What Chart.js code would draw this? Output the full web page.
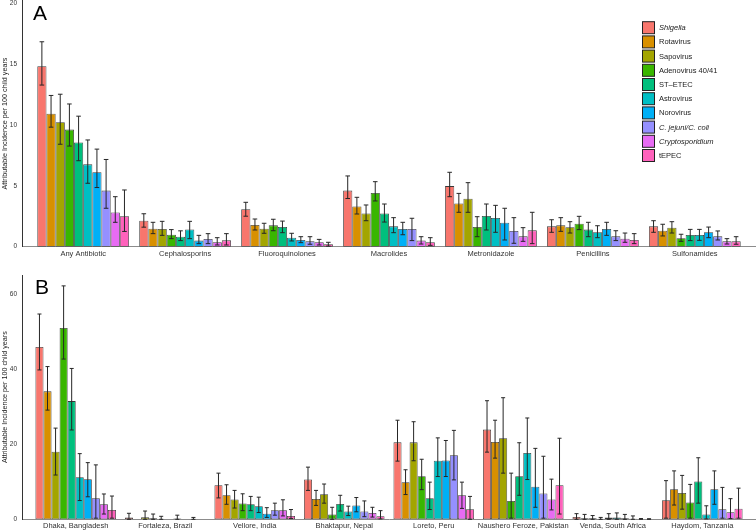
<!DOCTYPE html>
<html lang="en">
  <head>
    <meta charset="UTF-8" />
    <title>Attributable Incidence</title>
    <script src="https://cdn.jsdelivr.net/npm/chart.js"></script>
    <style>
      body { margin: 0; background: #fff; }
      canvas { display: block; }
    </style>
  </head>
  <body>
    <canvas id="chartA" width="756" height="262"></canvas>
    <canvas id="chartB" width="756" height="269"></canvas>
    <script>
      const pathogens = ["Shigella", "Rotavirus", "Sapovirus", "Adenovirus 40/41", "ST\u2013ETEC",
        "Astrovirus", "Norovirus", "C. jejuni/C. coli", "Cryptosporidium", "tEPEC"];
      const italicNames = ["Shigella", "C. jejuni/C. coli", "Cryptosporidium"];
      const colors = ["#F8766D", "#D89000", "#A3A500", "#39B600", "#00BF7D",
        "#00BFC4", "#00B0F6", "#9590FF", "#E76BF3", "#FF62BC"];

      const yTitle = "Attributable Incidence per 100 child years";

      // panel A: by antibiotic class
      const classes = ["Any Antibiotic", "Cephalosporins", "Fluoroquinolones", "Macrolides",
        "Metronidazole", "Penicillins", "Sulfonamides"];
      const yTicksA = [0, 5, 10, 15, 20];
      const estA = [
        [14.8, 2.13, 3.07, 4.6, 4.97, 1.67, 1.67],
        [10.9, 1.48, 1.78, 3.3, 3.55, 1.75, 1.31],
        [10.2, 1.45, 1.48, 2.73, 3.93, 1.59, 1.56],
        [9.6, 0.98, 1.75, 4.4, 1.61, 1.89, 0.69],
        [8.55, 0.82, 1.61, 2.73, 2.52, 1.4, 0.96],
        [6.75, 1.42, 0.74, 1.67, 2.35, 1.18, 0.96],
        [6.1, 0.5, 0.55, 1.45, 1.97, 1.45, 1.18],
        [4.6, 0.63, 0.44, 1.45, 1.29, 0.85, 0.85],
        [2.8, 0.36, 0.36, 0.5, 0.85, 0.66, 0.44],
        [2.5, 0.52, 0.2, 0.36, 1.34, 0.55, 0.44]
      ];
      const lowA = [
        [13.25, 1.6, 2.5, 3.95, 4.1, 1.18, 1.18],
        [9.8, 1.07, 1.37, 2.68, 2.82, 1.26, 0.88],
        [8.4, 0.93, 1.1, 2.13, 2.82, 1.12, 1.12],
        [8.25, 0.66, 1.31, 3.75, 0.82, 1.4, 0.44],
        [7.05, 0.5, 1.15, 2.02, 1.37, 0.82, 0.5],
        [5.2, 0.66, 0.47, 1.15, 1.18, 0.74, 0.52],
        [4.85, 0.25, 0.33, 0.98, 0.55, 0.93, 0.74],
        [3.15, 0.25, 0.2, 0.5, 0.28, 0.5, 0.55],
        [2.0, 0.14, 0.14, 0.22, 0.44, 0.36, 0.22],
        [1.25, 0.14, 0.05, 0.11, 0.25, 0.25, 0.2]
      ];
      const highA = [
        [16.8, 2.7, 3.64, 5.8, 6.1, 2.21, 2.13],
        [12.4, 2.0, 2.27, 4.05, 4.37, 2.38, 1.84],
        [12.5, 2.08, 1.92, 3.42, 5.25, 2.05, 2.05],
        [11.7, 1.4, 2.25, 5.33, 2.46, 2.49, 1.02],
        [10.7, 1.3, 2.1, 3.5, 3.5, 2.0, 1.42],
        [8.75, 2.08, 1.1, 2.38, 3.39, 1.72, 1.42],
        [8.0, 0.93, 0.82, 2.0, 3.15, 2.0, 1.61],
        [7.15, 1.07, 0.82, 2.33, 2.38, 1.31, 1.29],
        [4.1, 0.74, 0.6, 0.82, 1.56, 1.12, 0.66],
        [4.65, 1.07, 0.36, 0.74, 2.82, 1.07, 0.82]
      ];

      // panel B: by site
      const sites = ["Dhaka, Bangladesh", "Fortaleza, Brazil", "Vellore, India", "Bhaktapur, Nepal",
        "Loreto, Peru", "Naushero Feroze, Pakistan", "Venda, South Africa", "Haydom, Tanzania"];
      const yTicksB = [0, 20, 40, 60];
      const estB = [
        [45.9, 0.5, 9.1, 10.6, 20.5, 23.9, 0.6, 5.1],
        [34.1, 0, 6.4, 5.4, 9.9, 20.6, 0.3, 8.0],
        [18.0, 0.55, 5.3, 6.7, 20.5, 21.6, 0.3, 7.0],
        [51.0, 0.3, 4.2, 1.3, 11.5, 4.9, 0.1, 4.5],
        [31.5, 0.1, 4.0, 4.1, 5.6, 11.5, 0.45, 10.1],
        [11.2, 0, 3.5, 2.1, 15.6, 17.7, 0.5, 1.3],
        [10.7, 0.2, 1.5, 3.7, 15.7, 8.7, 0.3, 8.0],
        [5.6, 0, 2.4, 2.1, 17.1, 6.9, 0.15, 2.7],
        [4.0, 0.1, 2.4, 1.7, 6.4, 5.3, 0, 1.9],
        [2.5, 0, 0.9, 0.8, 2.7, 9.1, 0, 2.8]
      ];
      const lowB = [
        [39.8, 0, 5.7, 7.7, 15.5, 17.9, 0, 0.3],
        [29.1, 0, 4.0, 3.7, 6.6, 16.3, 0, 3.8],
        [11.8, 0, 3.0, 4.3, 15.6, 12.3, 0, 2.7],
        [42.7, 0, 2.3, 0, 7.9, 0.3, 0, 0.3],
        [23.8, 0, 2.3, 2.2, 2.6, 6.4, 0, 4.3],
        [5.0, 0, 1.8, 1.0, 11.4, 10.6, 0, 0.1],
        [6.0, 0, 0.5, 2.0, 11.4, 3.2, 0, 4.0],
        [0.3, 0, 1.1, 0.7, 10.5, 0.3, 0, 0.3],
        [1.4, 0, 0.9, 0.6, 2.9, 2.5, 0, 0.2],
        [0.3, 0, 0.2, 0.1, 0, 1.4, 0, 0.3]
      ];
      const highB = [
        [54.7, 1.6, 12.3, 13.9, 26.4, 31.6, 1.5, 10.3],
        [40.7, 0, 9.2, 7.7, 13.2, 26.4, 1.3, 12.9],
        [24.3, 2.2, 7.7, 9.4, 26.0, 32.4, 1.0, 11.7],
        [62.2, 1.4, 6.8, 3.2, 16.0, 12.3, 0.5, 9.3],
        [40.2, 0.8, 6.1, 6.4, 9.9, 20.4, 1.5, 16.4],
        [17.5, 0, 5.9, 3.5, 21.7, 27.0, 1.7, 3.6],
        [15.1, 1.1, 3.1, 5.8, 21.0, 18.9, 1.3, 12.9],
        [14.5, 0, 4.3, 4.9, 23.7, 16.8, 0.9, 8.5],
        [6.75, 0.5, 5.2, 3.2, 9.9, 10.7, 0.2, 5.5],
        [6.2, 0, 2.6, 2.3, 6.1, 21.6, 0.15, 8.3]
      ];

      Chart.defaults.font.family = "'Liberation Sans', Arial, sans-serif";

      // error bars drawn from the bar elements and the y scale
      function errorBars(low, high) {
        return {
          id: "errorBars",
          afterDatasetsDraw(chart) {
            const ctx = chart.ctx;
            const yScale = chart.scales.y;
            ctx.save();
            ctx.strokeStyle = "#262626";
            ctx.lineWidth = 1;
            chart.data.datasets.forEach((ds, d) => {
              const meta = chart.getDatasetMeta(d);
              meta.data.forEach((bar, i) => {
                const lo = low[d][i], hi = high[d][i];
                if (hi <= lo) return;
                const yLo = yScale.getPixelForValue(lo);
                const yHi = yScale.getPixelForValue(hi);
                const half = bar.width * 0.25;
                ctx.beginPath();
                ctx.moveTo(bar.x, yLo);
                ctx.lineTo(bar.x, yHi);
                ctx.moveTo(bar.x - half, yLo);
                ctx.lineTo(bar.x + half, yLo);
                ctx.moveTo(bar.x - half, yHi);
                ctx.lineTo(bar.x + half, yHi);
                ctx.stroke();
              });
            });
            ctx.restore();
          }
        };
      }

      function panelLetter(letter, x, y) {
        return {
          id: "panelLetter",
          afterDraw(chart) {
            const ctx = chart.ctx;
            ctx.save();
            ctx.fillStyle = "#000";
            ctx.font = "21px 'Liberation Sans', Arial, sans-serif";
            ctx.textAlign = "left";
            ctx.textBaseline = "alphabetic";
            ctx.fillText(letter, x, y);
            ctx.restore();
          }
        };
      }

      const legendBox = {
        id: "legendBox",
        afterDraw(chart) {
          const ctx = chart.ctx;
          ctx.save();
          pathogens.forEach((name, k) => {
            const top = 21.7 + k * 14.2;
            ctx.fillStyle = colors[k];
            ctx.fillRect(642.5, top, 12, 12);
            ctx.strokeStyle = "#222";
            ctx.lineWidth = 1;
            ctx.strokeRect(642.5, top, 12, 12);
            ctx.fillStyle = "#222";
            const style = italicNames.includes(name) ? "italic " : "";
            ctx.font = style + "7.5px 'Liberation Sans', Arial, sans-serif";
            ctx.textBaseline = "middle";
            ctx.fillText(name, 659, top + 6.5);
          });
          ctx.restore();
        }
      };

      function makeDatasets(est) {
        return pathogens.map((name, k) => ({
          label: name,
          data: est[k].map((v, i) => ({ x: i + 1, y: v })),
          backgroundColor: colors[k],
          borderColor: "rgba(35,35,35,0.9)",
          borderWidth: 0.8,
          borderSkipped: false,
          categoryPercentage: 0.9,
          barPercentage: 1.0
        }));
      }

      function drawPanel(canvasId, cats, est, low, high, yTicks, yMax, opts) {
        const ctx = document.getElementById(canvasId).getContext("2d");
        const plugins = [errorBars(low, high), panelLetter(opts.letter, opts.letterX, opts.letterY)];
        if (opts.legend) plugins.push(legendBox);
        new Chart(ctx, {
          type: "bar",
          data: { datasets: makeDatasets(est) },
          options: {
            responsive: false,
            animation: false,
            layout: { padding: { top: opts.top, left: 0, right: 0, bottom: 0 } },
            plugins: { legend: { display: false }, tooltip: { enabled: false } },
            scales: {
              x: {
                type: "linear",
                min: 0.4,
                max: cats.length + 0.6,
                offset: false,
                grid: { display: false, drawTicks: false, offset: false },
                border: { display: true, color: "#8c8c8c", width: 1 },
                ticks: {
                  autoSkip: false,
                  maxRotation: 0,
                  padding: opts.xPad,
                  color: "#333",
                  font: { size: 7.5 },
                  callback: (v) => cats[v - 1]
                },
                afterBuildTicks: (s) => { s.ticks = cats.map((c, i) => ({ value: i + 1 })); },
                afterFit: (s) => { s.height = opts.xHeight; s.paddingLeft = 0; s.paddingRight = 0; }
              },
              y: {
                min: 0,
                max: yMax,
                grid: { display: false, drawTicks: false },
                border: { display: true, color: "#333", width: 1 },
                title: {
                  display: true,
                  text: yTitle,
                  color: "#222",
                  font: { size: 7.2 },
                  padding: { top: 0.5, bottom: 0 }
                },
                ticks: { padding: 5, color: "#333", font: { size: 6.5 } },
                afterBuildTicks: (s) => { s.ticks = yTicks.map((v) => ({ value: v })); },
                afterFit: (s) => { s.width = 22; s.paddingTop = 0; s.paddingBottom = 0; }
              }
            }
          },
          plugins: plugins
        });
      }

      drawPanel("chartA", classes, estA, lowA, highA, yTicksA, 20.2,
        { letter: "A", letterX: 33, letterY: 20, top: 0.3, xHeight: 15.3, xPad: 3, legend: true });
      drawPanel("chartB", sites, estB, lowB, highB, yTicksB, 65.1,
        { letter: "B", letterX: 35, letterY: 32, top: 13, xHeight: 11.7, xPad: 2, legend: false });
    </script>
  </body>
</html>
